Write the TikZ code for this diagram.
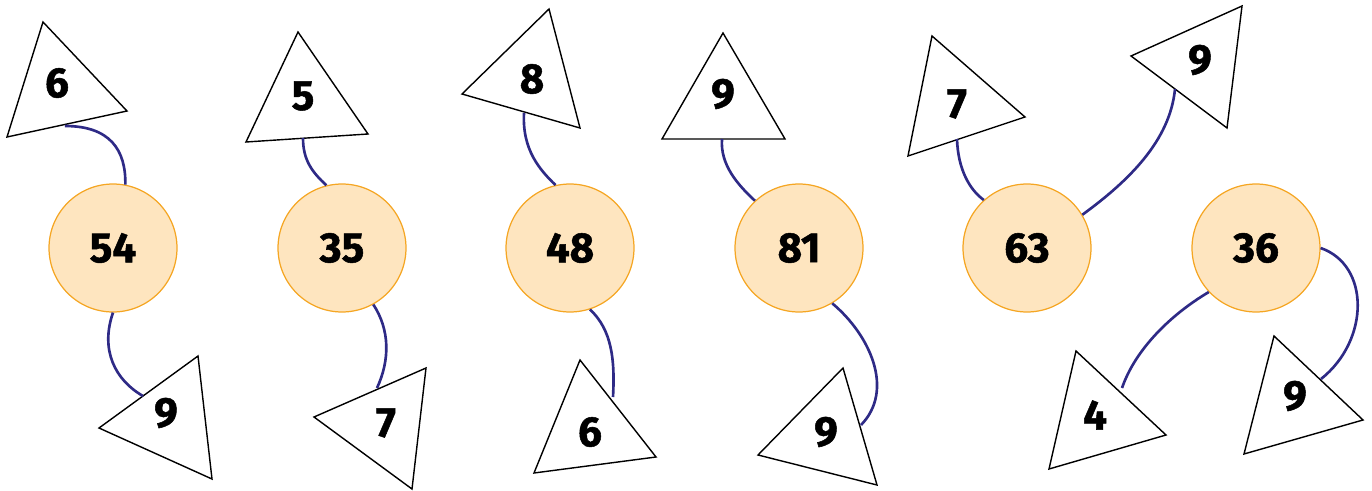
\documentclass[tikz,border=0pt]{standalone}
\usepackage{fontspec}
\setmainfont{Fira Sans}[BoldFeatures={FakeBold=1.2}]
\usepackage{xcolor}
\definecolor{ballfill}{RGB}{254,229,191}
\definecolor{ballline}{RGB}{245,166,35}
\definecolor{linkblue}{RGB}{46,42,134}
\usepackage{tikz}
\usetikzlibrary{positioning,calc}

\begin{document}
\begin{tikzpicture}[x=0.02cm,y=-0.02cm,
    ball/.style={circle,fill=ballfill,draw=ballline,line width=0.7pt,
      minimum size=2.56cm,inner sep=0pt,font=\fontsize{24}{24}\selectfont\bfseries},
    tri/.style={draw=black,line width=0.8pt,line join=miter},
    num/.style={inner sep=0pt,font=\fontsize{24}{24}\selectfont\bfseries},
    link/.style={draw=linkblue,line width=1.5pt}]
  \useasboundingbox (0,0) rectangle (1372,490);
  % 圆
  \node[ball] (b1) at (113,248) {54};
  \node[ball] (b2) at (342,248) {35};
  \node[ball] (b3) at (570,248) {48};
  \node[ball] (b4) at (799,248) {81};
  \node[ball] (b5) at (1027,248) {63};
  \node[ball] (b6) at (1256,248) {36};
  % 三角形
  \draw[tri] (43,22) -- (127,111) -- (7,137) -- cycle;
  \node[num] (t1) at (57,83) {6};
  \draw[tri] (198,356) -- (212,479) -- (99,428) -- cycle;
  \node[num] (t2) at (166,413) {9};
  \draw[tri] (298,32) -- (368,134) -- (246,142) -- cycle;
  \node[num] (t3) at (303,96) {5};
  \draw[tri] (426,368) -- (412,489) -- (314,417) -- cycle;
  \node[num] (t4) at (386,423) {7};
  \draw[tri] (549,9) -- (580,128) -- (462,94) -- cycle;
  \node[num] (t5) at (532,79) {8};
  \draw[tri] (580,360) -- (656,457) -- (534,473) -- cycle;
  \node[num] (t6) at (590,432) {6};
  \draw[tri] (723,33) -- (785,139) -- (662,139) -- cycle;
  \node[num] (t7) at (723,94) {9};
  \draw[tri] (843,368) -- (877,485) -- (758,455) -- cycle;
  \node[num] (t8) at (826,432) {9};
  \draw[tri] (932,36) -- (1025,117) -- (908,156) -- cycle;
  \node[num] (t9) at (957,104) {7};
  \draw[tri] (1242,6) -- (1227,128) -- (1131,56) -- cycle;
  \node[num] (t10) at (1200,60) {9};
  \draw[tri] (1076,351) -- (1166,435) -- (1049,469) -- cycle;
  \node[num] (t11) at (1095,415) {4};
  \draw[tri] (1274,336) -- (1363,420) -- (1244,454) -- cycle;
  \node[num] (t12) at (1295,396) {9};
  % 连线
  \coordinate (p1) at (65,126);
  \coordinate (p2) at (143,396);
  \coordinate (p3) at (303,138);
  \coordinate (p4) at (377,388);
  \coordinate (p5) at (524,113);
  \coordinate (p6) at (613,397);
  \coordinate (p7) at (722,139);
  \coordinate (p8) at (861,425);
  \coordinate (p9) at (957,139);
  \coordinate (p10) at (1175,89);
  \coordinate (p11) at (1122,388);
  \coordinate (p12) at (1321,379);
  \draw[link] (p1) .. controls (110,126) and (126,150) .. (b1.79);
  \draw[link] (b1.south) .. controls (100,350) and (115,380) .. (p2);
  \draw[link] (p3) .. controls (303,160) and (312,172) .. (b2.104);
  \draw[link] (b2.299) .. controls (390,330) and (390,360) .. (p4);
  \draw[link] (p5) .. controls (522,150) and (540,170) .. (b3.103);
  \draw[link] (b3.288) .. controls (612,330) and (615,360) .. (p6);
  \draw[link] (p7) .. controls (720,165) and (738,185) .. (b4.133);
  \draw[link] (b4.301) .. controls (870,335) and (895,390) .. (p8);
  \draw[link] (p9) .. controls (958,170) and (970,190) .. (b5.132);
  \draw[link] (b5.31) .. controls (1130,180) and (1170,140) .. (p10);
  \draw[link] (b6.223) .. controls (1170,315) and (1135,350) .. (p11);
  \draw[link] (b6.east) .. controls (1370,265) and (1370,340) .. (p12);
\end{tikzpicture}
\end{document}
